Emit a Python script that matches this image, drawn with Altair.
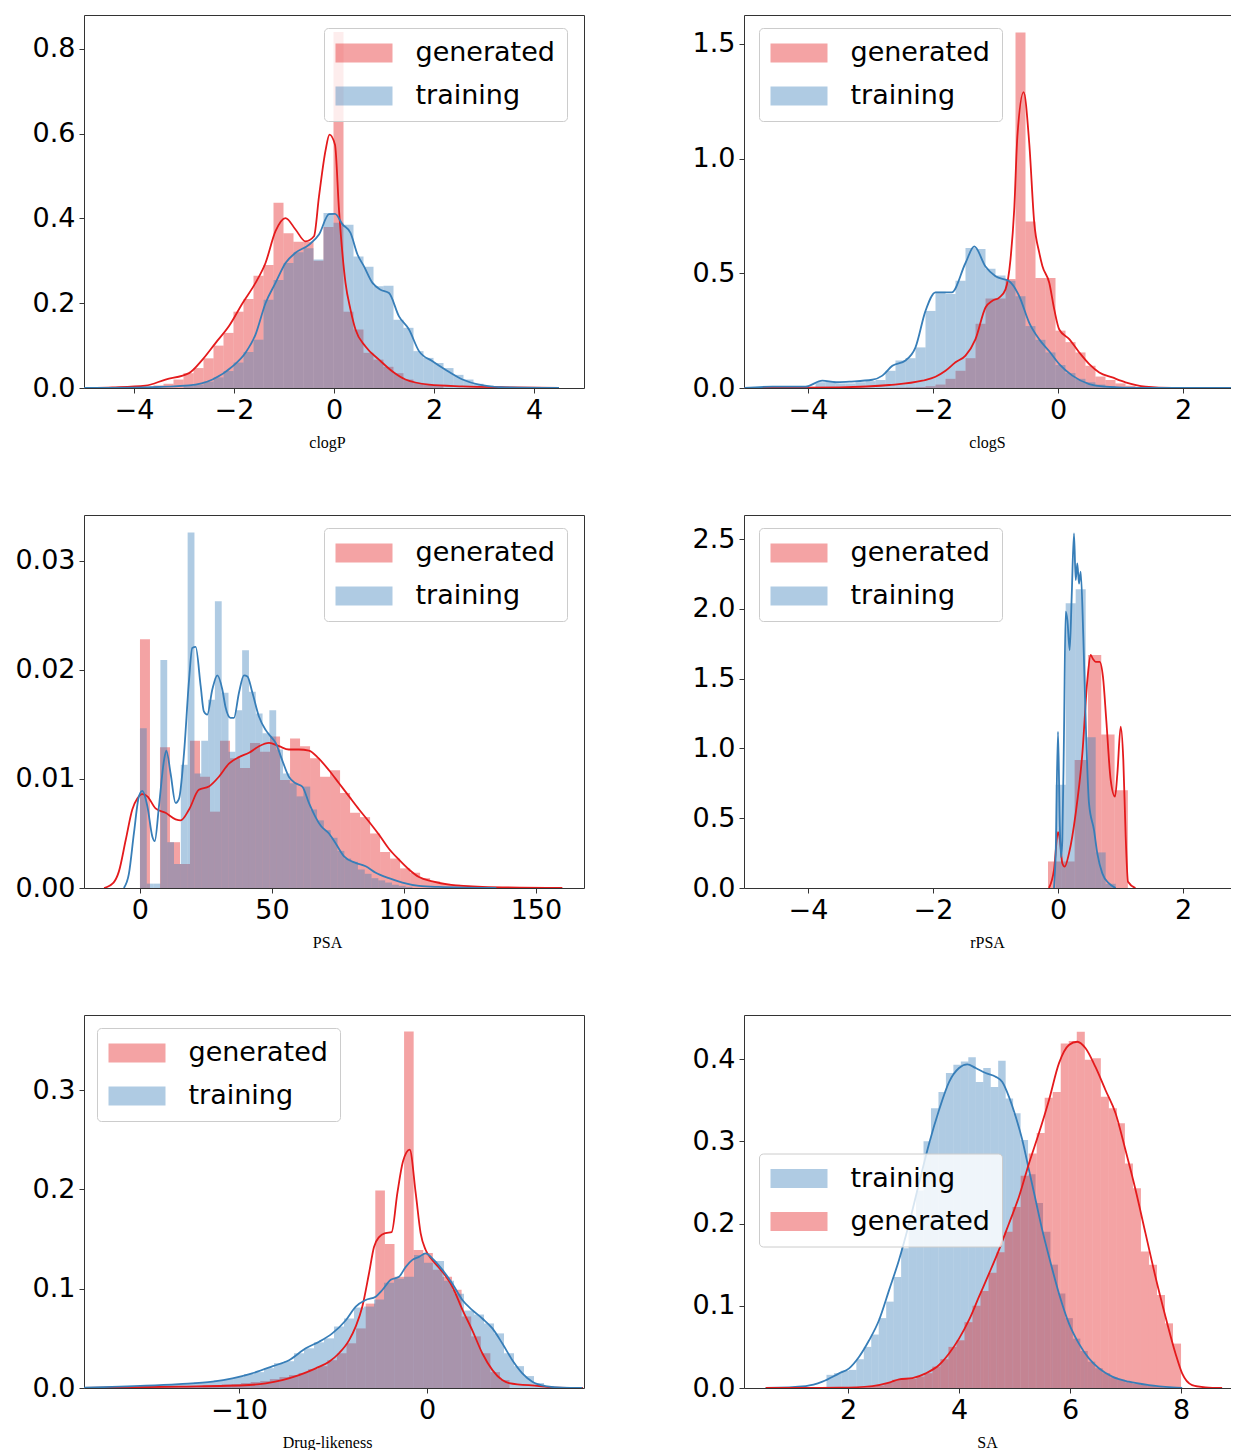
import altair as alt
import pandas as pd

# ---------------- data ----------------
# clogP
clogp_gen_start = -3.81
clogp_gen_width = 0.2
clogp_gen_heights = [0.003, 0.006, 0.01, 0.02, 0.035, 0.047, 0.07, 0.10, 0.13, 0.18, 0.21, 0.265,
                     0.29, 0.437, 0.365, 0.345, 0.345, 0.30, 0.38, 0.84, 0.18, 0.138, 0.083, 0.067,
                     0.05, 0.035, 0.02, 0.012, 0.008, 0.005]
clogp_train_start = -3.01
clogp_train_width = 0.2
clogp_train_heights = [0.005, 0.008, 0.015, 0.025, 0.04, 0.06, 0.085, 0.114, 0.208, 0.255, 0.295,
                       0.32, 0.33, 0.303, 0.413, 0.39, 0.385, 0.31, 0.286, 0.24, 0.241, 0.161, 0.142,
                       0.087, 0.071, 0.059, 0.047, 0.031, 0.02, 0.01, 0.006, 0.003]
clogp_gen_kde_x = [-4.9, -4.43, -3.77, -3.37, -2.9, -2.63, -2.37, -2.1, -1.83, -1.57, -1.37, -1.17,
                   -0.97, -0.77, -0.57, -0.4, -0.3, -0.17, -0.09, 0.02, 0.1, 0.23, 0.33, 0.43, 0.63,
                   0.9, 1.17, 1.43, 1.9, 2.57, 3.57, 4.5]
clogp_gen_kde_y = [0.0, 0.0015, 0.0055, 0.02, 0.035, 0.067, 0.106, 0.146, 0.2, 0.248, 0.295, 0.37,
                   0.401, 0.374, 0.346, 0.358, 0.452, 0.56, 0.598, 0.574, 0.42, 0.248, 0.185, 0.138,
                   0.098, 0.067, 0.039, 0.02, 0.008, 0.004, 0.0015, 0.0]
clogp_train_kde_x = [-5.0, -3.77, -2.9, -2.43, -2.03, -1.77, -1.57, -1.37, -1.17, -0.97, -0.77, -0.5,
                     -0.3, -0.1, 0.02, 0.17, 0.33, 0.47, 0.6, 0.77, 0.93, 1.1, 1.3, 1.5, 1.7, 1.97,
                     2.23, 2.57, 2.9, 3.43, 4.5]
clogp_train_kde_y = [0.0, 0.0015, 0.006, 0.02, 0.051, 0.083, 0.126, 0.2, 0.248, 0.295, 0.319, 0.338,
                     0.362, 0.41, 0.411, 0.386, 0.366, 0.315, 0.287, 0.248, 0.232, 0.224, 0.169, 0.138,
                     0.087, 0.063, 0.043, 0.02, 0.008, 0.0015, 0.0]

# clogS
clogs_gen_start = -2.76
clogs_gen_width = 0.16
clogs_gen_heights = [0.001, 0.002, 0.003, 0.004, 0.008, 0.015, 0.04, 0.075, 0.13, 0.28, 0.39, 0.39,
                     0.475, 1.55, 0.726, 0.48, 0.48, 0.25, 0.2, 0.155, 0.097, 0.05, 0.035, 0.02, 0.01,
                     0.005]
clogs_train_start = -4.04
clogs_train_width = 0.16
clogs_train_heights = [0.005, 0.025, 0.03, 0.02, 0.02, 0.025, 0.03, 0.035, 0.075, 0.12, 0.13, 0.177,
                       0.336, 0.42, 0.41, 0.467, 0.61, 0.606, 0.52, 0.49, 0.467, 0.4, 0.27, 0.21,
                       0.155, 0.1, 0.065, 0.04, 0.025, 0.015, 0.008, 0.004]
clogs_gen_kde_x = [-5.02, -3.5, -2.7, -2.17, -1.96, -1.8, -1.64, -1.48, -1.32, -1.16, -1.05, -0.94,
                   -0.84, -0.76, -0.7, -0.65, -0.55, -0.46, -0.38, -0.3, -0.25, -0.14, -0.06, 0.02,
                   0.18, 0.34, 0.5, 0.66, 0.87, 1.08, 1.4, 1.83, 2.77]
clogs_gen_kde_y = [0.0, 0.003, 0.013, 0.032, 0.049, 0.075, 0.112, 0.141, 0.213, 0.351, 0.38, 0.394,
                   0.43, 0.561, 0.78, 1.097, 1.29, 1.067, 0.72, 0.59, 0.532, 0.459, 0.343, 0.255,
                   0.213, 0.155, 0.104, 0.068, 0.046, 0.025, 0.006, 0.0, 0.0]
clogs_train_kde_x = [-5.02, -4.57, -4.04, -3.77, -3.56, -3.34, -2.97, -2.81, -2.65, -2.44, -2.28,
                     -2.12, -1.96, -1.7, -1.48, -1.34, -1.16, -1.0, -0.78, -0.62, -0.46, -0.3, -0.14,
                     0.02, 0.23, 0.5, 0.76, 1.3, 2.77]
clogs_train_kde_y = [0.0, 0.006, 0.006, 0.032, 0.025, 0.028, 0.036, 0.054, 0.097, 0.12, 0.177, 0.336,
                     0.417, 0.417, 0.545, 0.617, 0.53, 0.487, 0.465, 0.4, 0.284, 0.212, 0.16, 0.104,
                     0.054, 0.017, 0.006, 0.0, 0.0]

# PSA
psa_gen_start = 0.0
psa_gen_width = 3.79
psa_gen_heights = [0.0228, 0.0, 0.0129, 0.0042, 0.0022, 0.0135, 0.0102, 0.007, 0.0135, 0.0119, 0.011,
                   0.0133, 0.0125, 0.0139, 0.0099, 0.0137, 0.013, 0.0119, 0.0102, 0.0108, 0.0087,
                   0.0069, 0.0065, 0.005, 0.0033, 0.0027, 0.0018, 0.0014, 0.0009, 0.0006, 0.0004,
                   0.0003, 0.0002, 0.00015, 0.0001, 0.00008, 0.00005, 0.00004, 0.00003, 0.00002,
                   0.00002, 0.00001]
psa_train_start = 0.0
psa_train_width = 2.58
psa_train_heights = [0.01465, 0.0004, 0.0004, 0.0209, 0.0042, 0.0022, 0.0113, 0.0326, 0.0105, 0.0135,
                     0.01725, 0.0263, 0.0179, 0.0125, 0.0163, 0.0218, 0.018, 0.016, 0.0142, 0.0163,
                     0.0127, 0.0105, 0.0096, 0.0084, 0.0093, 0.0072, 0.0062, 0.0053, 0.0046, 0.0034,
                     0.0027, 0.0024, 0.0017, 0.0013, 0.0009, 0.0007, 0.0005, 0.0003, 0.0002, 0.0001]
psa_gen_kde_x = [-13.6, -10, -8, -5.4, -2.9, -1, 0.9, 2.8, 5.9, 9.7, 13.5, 15.4, 18.6, 22.3, 26.1,
                 29.9, 33.7, 37.5, 41.3, 45.1, 48.9, 52.7, 56.4, 60.2, 64, 67.6, 71.6, 75.4, 79.2, 83,
                 86.7, 90.5, 94.3, 98.1, 101.9, 105.7, 110.8, 117.1, 129.7, 160]
psa_gen_kde_y = [0.0, 0.0005, 0.0015, 0.0044, 0.0072, 0.0082, 0.0086, 0.0084, 0.0073, 0.0069, 0.0063,
                 0.0062, 0.0072, 0.009, 0.0093, 0.0102, 0.0114, 0.012, 0.0124, 0.013, 0.0133, 0.013,
                 0.0127, 0.0127, 0.0126, 0.0119, 0.0108, 0.0096, 0.0084, 0.0072, 0.0061, 0.0049,
                 0.0036, 0.0026, 0.0017, 0.001, 0.0006, 0.0003, 0.0001, 0.0]
psa_train_kde_x = [-6.1, -4.2, -2.3, -0.4, 0.9, 2.8, 4.7, 5.6, 7.2, 9.1, 10, 11.6, 13.5, 14.8, 16.7,
                   18.6, 19.8, 21.1, 23, 24.2, 25.5, 27.4, 29.3, 31.2, 32.4, 34.3, 35.6, 37.5, 39.4,
                   40.7, 42.6, 45.1, 47.6, 49.5, 51.4, 53.9, 56.4, 59, 61.5, 64, 66.5, 68.5, 71.6,
                   74.1, 77.3, 81.7, 85.5, 89.3, 94.3, 99.4, 105.7, 113, 135]
psa_train_kde_y = [0.0, 0.0013, 0.005, 0.0084, 0.0089, 0.0075, 0.0047, 0.0043, 0.0075, 0.0117, 0.0126,
                   0.0105, 0.0078, 0.0082, 0.0124, 0.0191, 0.022, 0.0221, 0.0185, 0.0162, 0.0159,
                   0.0182, 0.0195, 0.0182, 0.0166, 0.0156, 0.0156, 0.0179, 0.0195, 0.0194, 0.0179,
                   0.0157, 0.0145, 0.0139, 0.0133, 0.0117, 0.0102, 0.0096, 0.0093, 0.0078, 0.0065,
                   0.0057, 0.005, 0.0041, 0.0029, 0.0023, 0.002, 0.0014, 0.0009, 0.0005, 0.0002,
                   0.0001, 0.0]

# rPSA
rpsa_gen_start = -0.16
rpsa_gen_width = 0.213
rpsa_gen_heights = [0.19, 0.19, 0.917, 1.67, 1.10, 0.70]
rpsa_train_start = -0.037
rpsa_train_width = 0.16
rpsa_train_heights = [0.74, 2.04, 2.14, 1.08, 0.255, 0.03]
rpsa_gen_kde_x = [-0.144, -0.064, 0.0, 0.032, 0.069, 0.107, 0.176, 0.283, 0.39, 0.47, 0.523, 0.56,
                  0.603, 0.667, 0.72, 0.773, 0.843, 0.912, 0.95, 1.003, 1.045, 1.083, 1.12, 1.24]
rpsa_gen_kde_y = [0.0, 0.13, 0.40, 0.34, 0.177, 0.153, 0.248, 0.535, 0.965, 1.49, 1.669, 1.64, 1.62,
                  1.62, 1.51, 1.2, 0.774, 0.654, 0.82, 1.156, 0.917, 0.368, 0.045, 0.0]
rpsa_train_kde_x = [-0.064, -0.037, 0.0, 0.027, 0.048, 0.069, 0.096, 0.123, 0.15, 0.187, 0.219, 0.256,
                    0.283, 0.309, 0.336, 0.363, 0.405, 0.443, 0.496, 0.576, 0.629, 0.709, 0.816, 0.923]
rpsa_train_kde_y = [0.0, 0.248, 1.12, 0.487, 0.22, 0.34, 1.108, 1.98, 1.92, 1.705, 2.087, 2.54, 2.206,
                    2.326, 2.18, 2.266, 1.8, 1.2, 0.606, 0.415, 0.248, 0.105, 0.033, 0.0]

# Drug-likeness
drug_gen_start = -14.99
drug_gen_width = 0.51
drug_gen_heights = [0.001, 0.001, 0.0012, 0.0015, 0.0018, 0.002, 0.0025, 0.003, 0.0035, 0.004, 0.005,
                    0.006, 0.007, 0.009, 0.011, 0.013, 0.015, 0.019, 0.022, 0.028, 0.035, 0.045, 0.06,
                    0.085, 0.199, 0.145, 0.112, 0.359, 0.139, 0.136, 0.119, 0.112, 0.099, 0.072, 0.052,
                    0.035, 0.016, 0.008]
drug_train_start = -18.248
drug_train_width = 0.532
drug_train_heights = [0.0005, 0.0008, 0.001, 0.0012, 0.0015, 0.002, 0.0025, 0.003, 0.0035, 0.004,
                      0.005, 0.0055, 0.006, 0.0075, 0.009, 0.011, 0.014, 0.016, 0.02, 0.025, 0.027,
                      0.035, 0.04, 0.046, 0.05, 0.062, 0.07, 0.081, 0.082, 0.089, 0.106, 0.11, 0.112,
                      0.134, 0.126, 0.128, 0.108, 0.095, 0.078, 0.074, 0.065, 0.055, 0.035, 0.022,
                      0.012, 0.005, 0.002, 0.001, 0.0005]
drug_gen_kde_x = [-18.5, -13.2, -9.47, -8.58, -7.7, -6.81, -5.92, -5.21, -4.68, -4.15, -3.79, -3.44,
                  -3.09, -2.82, -2.55, -2.2, -1.88, -1.58, -1.28, -0.92, -0.6, -0.34, -0.07, 0.28,
                  0.82, 1.35, 1.88, 2.41, 2.94, 3.48, 4.0, 4.36, 5.96, 6.84, 8.3]
drug_gen_kde_y = [0.0, 0.0013, 0.003, 0.0047, 0.008, 0.013, 0.0198, 0.0265, 0.035, 0.048, 0.062,
                  0.082, 0.115, 0.142, 0.152, 0.156, 0.157, 0.196, 0.228, 0.24, 0.196, 0.156, 0.139,
                  0.129, 0.117, 0.102, 0.079, 0.058, 0.035, 0.018, 0.008, 0.005, 0.002, 0.0003, 0.0]
drug_train_kde_x = [-18.5, -14.96, -13.2, -11.4, -10.35, -9.3, -8.2, -7.34, -6.45, -5.74, -5.04,
                    -4.33, -3.79, -3.26, -2.73, -2.38, -1.93, -1.49, -1.13, -0.78, -0.43, -0.07, 0.28,
                    0.82, 1.35, 1.88, 2.41, 2.94, 3.48, 4.0, 4.54, 5.07, 5.6, 6.3, 7.2, 8.26]
drug_train_kde_y = [0.0003, 0.0023, 0.004, 0.0064, 0.0097, 0.0148, 0.022, 0.028, 0.04, 0.0466, 0.055,
                    0.068, 0.082, 0.0886, 0.092, 0.0987, 0.109, 0.112, 0.122, 0.129, 0.132, 0.1356,
                    0.1305, 0.119, 0.105, 0.0886, 0.0785, 0.07, 0.06, 0.045, 0.028, 0.0148, 0.0064,
                    0.002, 0.0003, 0.0]

# SA
sa_gen_start = 2.22
sa_gen_width = 0.1445
sa_gen_heights = [0.001, 0.002, 0.003, 0.006, 0.01, 0.012, 0.011, 0.014, 0.018, 0.026, 0.035, 0.05,
                  0.058, 0.08, 0.1, 0.118, 0.14, 0.165, 0.19, 0.22, 0.258, 0.285, 0.31, 0.353, 0.36,
                  0.419, 0.422, 0.433, 0.399, 0.401, 0.354, 0.34, 0.322, 0.273, 0.243, 0.166, 0.15,
                  0.113, 0.0786, 0.054]
sa_train_start = 1.612
sa_train_width = 0.1345
sa_train_heights = [0.016, 0.018, 0.021, 0.022, 0.035, 0.05, 0.065, 0.085, 0.105, 0.135, 0.17, 0.205,
                    0.24, 0.3, 0.34, 0.36, 0.383, 0.393, 0.397, 0.402, 0.372, 0.389, 0.366, 0.398,
                    0.352, 0.334, 0.3015, 0.26, 0.225, 0.19, 0.15, 0.115, 0.085, 0.06, 0.045, 0.032,
                    0.024, 0.018, 0.013, 0.01, 0.007, 0.005, 0.004, 0.003, 0.002, 0.001]
sa_gen_kde_x = [0.517, 1.84, 2.44, 2.74, 2.92, 3.16, 3.4, 3.64, 3.82, 4.0, 4.18, 4.36, 4.54, 4.72,
                4.9, 5.08, 5.26, 5.44, 5.62, 5.8, 5.98, 6.13, 6.28, 6.46, 6.64, 6.82, 7.0, 7.18, 7.36,
                7.54, 7.72, 7.9, 8.02, 8.2, 8.44, 8.74]
sa_gen_kde_y = [0.0, 0.0004, 0.0024, 0.0065, 0.0105, 0.012, 0.0178, 0.028, 0.042, 0.06, 0.0827, 0.111,
                0.139, 0.168, 0.2, 0.2326, 0.273, 0.31, 0.35, 0.3947, 0.417, 0.421, 0.413, 0.39,
                0.362, 0.334, 0.289, 0.241, 0.188, 0.135, 0.0867, 0.042, 0.0178, 0.0036, 0.0008, 0.0]
sa_train_kde_x = [0.517, 1.24, 1.54, 1.84, 2.02, 2.2, 2.38, 2.56, 2.74, 2.92, 3.1, 3.28, 3.46, 3.64,
                  3.82, 4.0, 4.15, 4.3, 4.48, 4.66, 4.78, 4.9, 5.02, 5.14, 5.26, 5.38, 5.5, 5.62, 5.8,
                  5.98, 6.16, 6.34, 6.52, 6.76, 7.06, 7.42, 7.84, 8.02]
sa_train_kde_y = [0.0, 0.0024, 0.0077, 0.0178, 0.0239, 0.038, 0.058, 0.0827, 0.119, 0.156, 0.2, 0.249,
                  0.297, 0.338, 0.372, 0.389, 0.3935, 0.389, 0.383, 0.3785, 0.372, 0.354, 0.33,
                  0.3015, 0.265, 0.2286, 0.192, 0.16, 0.115, 0.0786, 0.054, 0.036, 0.024, 0.0138,
                  0.0077, 0.0036, 0.0008, 0.0]

# axis labels / ticks
panel_titles = ["clogP", "clogS", "PSA", "rPSA", "Drug-likeness", "SA"]
x_ticks = [[-4, -2, 0, 2, 4], [-4, -2, 0, 2], [0, 50, 100, 150], [-4, -2, 0, 2], [-10, 0], [2, 4, 6, 8]]
y_ticks = [[0, 0.2, 0.4, 0.6, 0.8], [0, 0.5, 1.0, 1.5], [0, 0.01, 0.02, 0.03],
           [0, 0.5, 1.0, 1.5, 2.0, 2.5], [0, 0.1, 0.2, 0.3], [0, 0.1, 0.2, 0.3, 0.4]]
x_domains = [[-5.0, 5.0], [-5.024, 2.768], [-21.2, 168.2], [-5.024, 2.768], [-18.245, 8.35], [0.126, 8.9]]
y_domains = [[0, 0.88], [0, 1.626], [0, 0.0342], [0, 2.672], [0, 0.3756], [0, 0.4535]]
y_formats = [".1f", ".1f", ".2f", ".1f", ".1f", ".1f"]

# ---------------- chart ----------------
RED = "#e41a1c"
BLUE = "#377eb8"
LEG_SYMBOL = "M-1,-0.7037L3.2222,-0.7037L3.2222,0.7037L-1,0.7037Z"


def hist_rows(start, width, heights, series):
    rows = []
    for i, h in enumerate(heights):
        x0 = start + i * width
        rows.append({"x0": x0, "x1": x0 + width, "h": h, "base": 0.0, "series": series})
    return rows


def panel(i, gen, train, gen_kde, train_kde, order, leg_x, leg_y, width, right_spine):
    if order[0] == "generated":
        rows = hist_rows(*gen, "generated") + hist_rows(*train, "training")
    else:
        rows = hist_rows(*train, "training") + hist_rows(*gen, "generated")
    df = pd.DataFrame(rows)
    colors = [RED if s == "generated" else BLUE for s in order]
    xs = alt.Scale(domain=x_domains[i], nice=False, zero=False)
    ys = alt.Scale(domain=y_domains[i], nice=False, zero=False)

    bars = alt.Chart(df).mark_rect(opacity=0.4, clip=True).encode(
        x=alt.X("x0:Q", scale=xs,
                axis=alt.Axis(values=x_ticks[i], format="d", title=panel_titles[i],
                              titleX=243, titleY=59, titleAlign="center",
                              titleBaseline="alphabetic")),
        x2="x1:Q",
        y=alt.Y("h:Q", scale=ys,
                axis=alt.Axis(values=y_ticks[i], format=y_formats[i], title=None)),
        y2="base:Q",
        color=alt.Color("series:N", scale=alt.Scale(domain=order, range=colors),
                        legend=alt.Legend(orient="none", legendX=leg_x, legendY=leg_y, title=None,
                                          direction="vertical", labelFontSize=27,
                                          labelFont="DejaVu Sans", labelColor="black",
                                          symbolType=LEG_SYMBOL, symbolSize=729,
                                          symbolOpacity=0.4, symbolStrokeWidth=0,
                                          fillColor="rgba(255,255,255,0.8)",
                                          strokeColor="#cccccc", cornerRadius=4, padding=11.5,
                                          rowPadding=15, labelOffset=53, labelLimit=400,
                                          zindex=1)),
    )
    gen_line = alt.Chart(pd.DataFrame({"x": gen_kde[0], "y": gen_kde[1]})).mark_line(
        color=RED, strokeWidth=1.8, clip=True, interpolate="monotone").encode(
        x=alt.X("x:Q", scale=xs, axis=alt.Axis(orient="top", labels=False, ticks=False,
                                              title=None, grid=False)),
        y=alt.Y("y:Q", scale=ys, axis=None),
    )
    right_axis = alt.Axis(orient="right", labels=False, ticks=False, title=None) if right_spine else None
    train_line = alt.Chart(pd.DataFrame({"x": train_kde[0], "y": train_kde[1]})).mark_line(
        color=BLUE, strokeWidth=1.8, clip=True, interpolate="monotone").encode(
        x=alt.X("x:Q", scale=xs, axis=None),
        y=alt.Y("y:Q", scale=ys, axis=right_axis),
    )
    if order[0] == "generated":
        layers = [bars, gen_line, train_line]
    else:
        layers = [bars, train_line, gen_line]
    return alt.layer(*layers).resolve_axis(x="independent", y="independent").properties(
        width=width, height=373)


p1 = panel(0, (clogp_gen_start, clogp_gen_width, clogp_gen_heights),
           (clogp_train_start, clogp_train_width, clogp_train_heights),
           (clogp_gen_kde_x, clogp_gen_kde_y), (clogp_train_kde_x, clogp_train_kde_y),
           ["generated", "training"], 240, 13, 500, True)
p2 = panel(1, (clogs_gen_start, clogs_gen_width, clogs_gen_heights),
           (clogs_train_start, clogs_train_width, clogs_train_heights),
           (clogs_gen_kde_x, clogs_gen_kde_y), (clogs_train_kde_x, clogs_train_kde_y),
           ["generated", "training"], 15, 13, 487, False)
p3 = panel(2, (psa_gen_start, psa_gen_width, psa_gen_heights),
           (psa_train_start, psa_train_width, psa_train_heights),
           (psa_gen_kde_x, psa_gen_kde_y), (psa_train_kde_x, psa_train_kde_y),
           ["generated", "training"], 240, 13, 500, True)
p4 = panel(3, (rpsa_gen_start, rpsa_gen_width, rpsa_gen_heights),
           (rpsa_train_start, rpsa_train_width, rpsa_train_heights),
           (rpsa_gen_kde_x, rpsa_gen_kde_y), (rpsa_train_kde_x, rpsa_train_kde_y),
           ["generated", "training"], 15, 13, 487, False)
p5 = panel(4, (drug_gen_start, drug_gen_width, drug_gen_heights),
           (drug_train_start, drug_train_width, drug_train_heights),
           (drug_gen_kde_x, drug_gen_kde_y), (drug_train_kde_x, drug_train_kde_y),
           ["generated", "training"], 13, 13, 500, True)
p6 = panel(5, (sa_gen_start, sa_gen_width, sa_gen_heights),
           (sa_train_start, sa_train_width, sa_train_heights),
           (sa_gen_kde_x, sa_gen_kde_y), (sa_train_kde_x, sa_train_kde_y),
           ["training", "generated"], 15, 138.5, 487, False)

chart = alt.concat(p1, p2, p3, p4, p5, p6, columns=2,
                   spacing=alt.RowColnumber(row=127, column=160),
                   bounds="flush").resolve_scale(
    x="independent", y="independent", color="independent").resolve_legend(color="independent")

chart = chart.properties(
    padding={"left": 14, "top": 15, "right": 0, "bottom": 0},
    background="white",
).configure_view(stroke=None).configure_axis(
    domainColor="#333333", domainWidth=1, tickColor="#333333", tickSize=5, tickWidth=1,
    labelFont="DejaVu Sans", labelFontSize=27, labelColor="black", labelPadding=4,
    grid=False, titleFont="Liberation Serif", titleFontSize=16, titleFontWeight="normal",
    titleColor="black", labelFlush=False, labelOverlap=False, zindex=1,
)

chart.save("out.html", embed_options={"renderer": "svg", "actions": False})
